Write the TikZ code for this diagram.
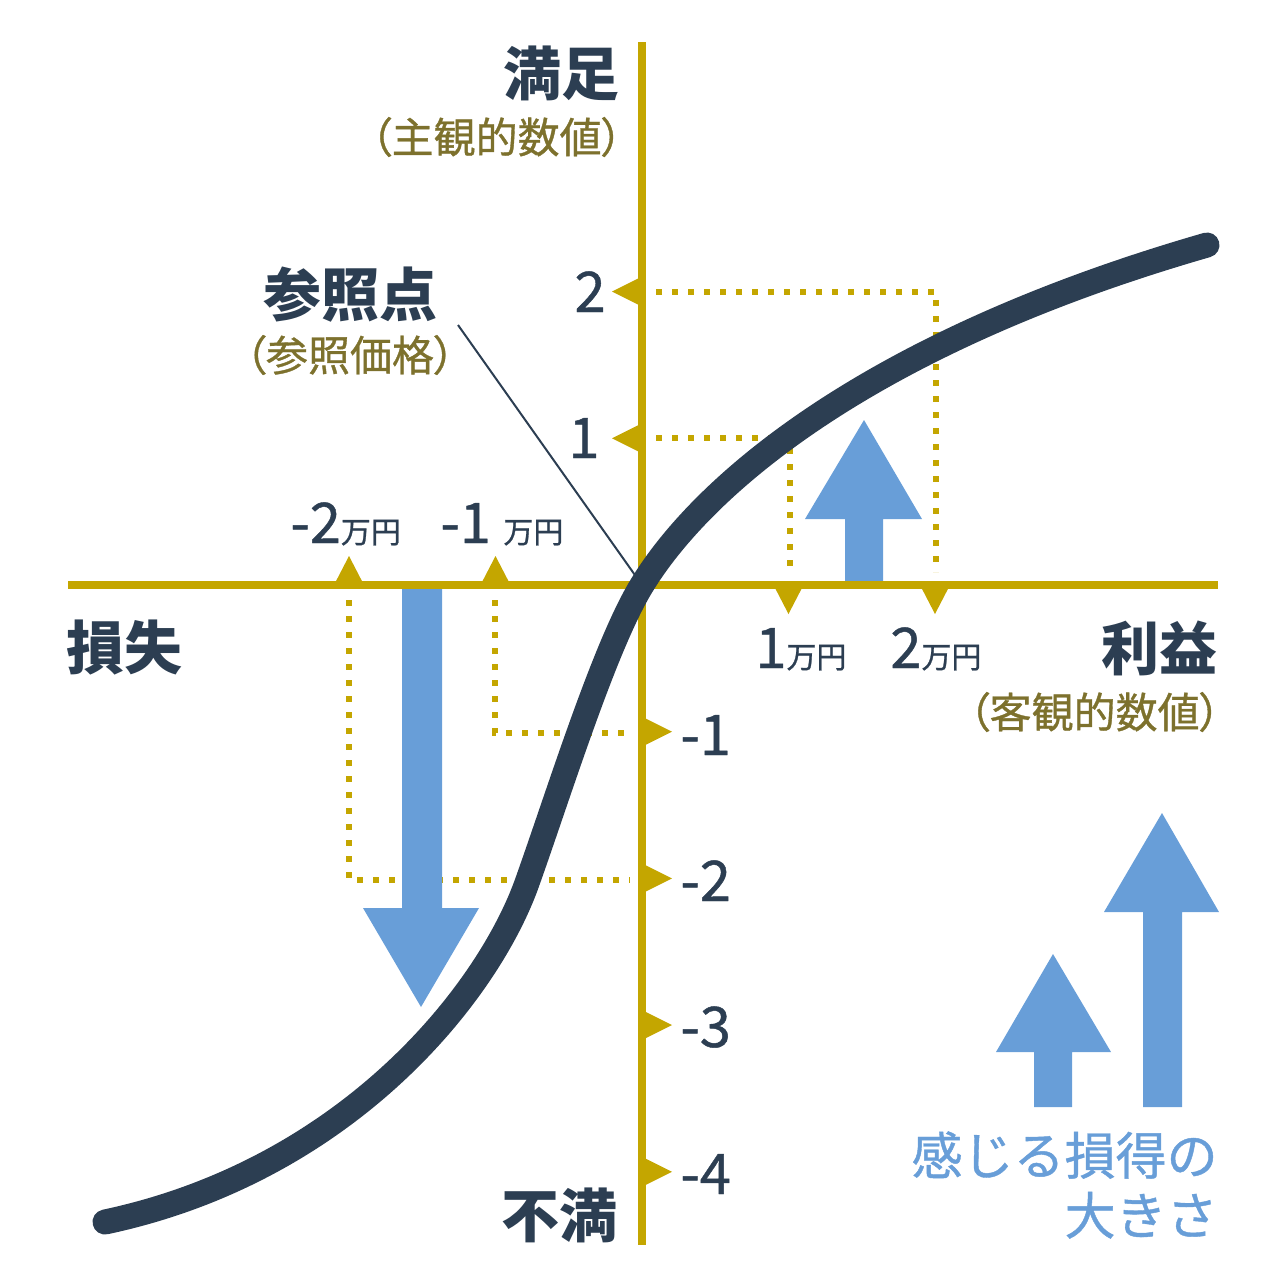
\documentclass[tikz,border=0pt]{standalone}
\usepackage{fontspec}
\setmainfont{Noto Sans CJK JP}
\newfontfamily\jpprop[RawFeature=+palt, FakeBold=0.8]{Noto Sans CJK JP}
\newfontfamily\jpmed[FakeBold=0.8]{Noto Sans CJK JP}
\usepackage{xcolor}
\usepackage{tikz}
\usetikzlibrary{positioning}
\definecolor{axisgold}{RGB}{196,166,0}
\definecolor{navymain}{RGB}{44,62,82}
\definecolor{gainblue}{RGB}{104,158,216}
\definecolor{olivetext}{RGB}{125,113,45}
\newcommand{\manyen}{{\fontsize{15}{16}\selectfont 万円}}

\begin{document}
\begin{tikzpicture}[x=0.5pt, y=-0.5pt,
  axis/.style={draw=axisgold, line width=4pt},
  tickmark/.style={fill=axisgold},
  guide/.style={draw=axisgold, line width=3pt, dash pattern=on 3pt off 5pt},
  feel/.style={fill=gainblue},
  curve/.style={draw=navymain, line width=12.5pt, line cap=round},
  title/.style={text=navymain, inner sep=0pt, font=\fontsize{29}{30}\selectfont\bfseries},
  paren/.style={text=olivetext, inner sep=0pt, font=\jpprop\fontsize{21}{22}\selectfont},
  num/.style={text=navymain, inner sep=0pt, font=\jpmed\fontsize{28}{29}\selectfont}]
  \useasboundingbox (0,0) rectangle (1280,1287);
  \coordinate (o) at (642,585);
  \coordinate (xl) at (68,585);
  \coordinate (xr) at (1218,585);
  \coordinate (yt) at (642,42);
  \coordinate (yb) at (642,1245);
  % dotted guides
  \draw[guide] (349,600) -- (349,880) -- (630,880);
  \draw[guide] (495,600) -- (495,733) -- (630,733);
  \draw[guide] (656,438) -- (790,438) -- (790,572);
  \draw[guide] (656,292) -- (936,292) -- (936,572);
  % felt size arrows
  \fill[feel] (845,581) -- (845,519) -- (805,519) -- (864,420) -- (922,519) -- (883,519) -- (883,581) -- cycle;
  \fill[feel] (402,589) -- (442,589) -- (442,908) -- (479,908) -- (421,1007) -- (363,908) -- (402,908) -- cycle;
  \fill[feel] (1034,1107) -- (1034,1052) -- (996,1052) -- (1053,954) -- (1111,1052) -- (1072,1052) -- (1072,1107) -- cycle;
  \fill[feel] (1143,1107) -- (1143,912) -- (1104,912) -- (1162,813) -- (1219,912) -- (1182,912) -- (1182,1107) -- cycle;
  % axes and ticks
  \draw[axis] (xl) -- (xr);
  \draw[axis] (yt) -- (yb);
  \foreach \v in {1,2}
    \fill[tickmark] (642,585-146.7*\v) ++(0,-15) -- ++(-30,15) -- ++(30,15) -- cycle;
  \foreach \v in {1,...,4}
    \fill[tickmark] (642,585+146.7*\v) ++(0,-15) -- ++(30,15) -- ++(-30,15) -- cycle;
  \foreach \v in {1,2} {
    \fill[tickmark] (642-146.5*\v,585) ++(-15,0) -- ++(15,-29) -- ++(15,29) -- cycle;
    \fill[tickmark] (642+146.5*\v,585) ++(-15,0) -- ++(15,29) -- ++(15,-29) -- cycle;
  }
  % reference point
  \coordinate (refend) at (458,325);
  \draw[navymain, line width=1pt] (refend) -- (o);
  % value curve
  \draw[curve] (105,1222) .. controls (350,1170) and (490,990) .. (528,880)
    .. controls (560,790) and (605,645) .. (o)
    .. controls (700,490) and (860,345) .. (1207,245);
  % labels
  \node[title, anchor=east] (manzoku) at (620,73) {満足};
  \node[paren, anchor=east] (shukan) at (623,137) {（主観的数値）};
  \node[title, anchor=east] (fuman) at (618,1215) {不満};
  \node[title, anchor=west] (sonshitsu) at (66,648) {損失};
  \node[title, anchor=east] (rieki) at (1218,648) {利益};
  \node[paren, anchor=east] (kyakkan) at (1221,712) {（客観的数値）};
  \node[title] (refpt) at (350,295) {参照点};
  \node[paren] (refprice) at (350,355) {（参照価格）};
  \node[num, anchor=base east] (ytwo) at (606,312) {2};
  \node[num, anchor=base east] (yone) at (600,458) {1};
  \foreach \v/\yy in {1/755,2/901,3/1047,4/1194}
    \node[num, anchor=base west] (yneg\v) at (680,\yy) {-\v};
  \node[num, anchor=base west] (xnegtwo) at (290,543) {-2\manyen};
  \node[num, anchor=base west] (xnegone) at (440,543) {-1 \manyen};
  \node[num, anchor=base west] (xposone) at (755,668) {1\manyen};
  \node[num, anchor=base west] (xpostwo) at (890,668) {2\manyen};
  \node[text=gainblue, inner sep=0pt, align=right, anchor=east,
        font=\jpmed\fontsize{25.5}{30}\selectfont] (feeltext) at (1218,1185) {感じる損得の\\大きさ};
\end{tikzpicture}
\end{document}
